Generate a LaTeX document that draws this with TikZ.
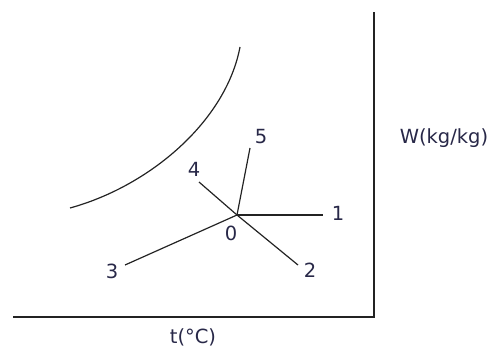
\documentclass[tikz,border=0pt]{standalone}
\usepackage{fontspec}
\setmainfont{DejaVu Sans}
\usetikzlibrary{positioning}
\definecolor{labelink}{RGB}{40,40,72}
\definecolor{lineink}{RGB}{35,35,35}

\begin{document}
\begin{tikzpicture}[
    x=1pt, y=1pt,
    axis/.style={draw=lineink, line width=1.5pt},
    ray/.style={draw=lineink, line width=1.2pt},
    satline/.style={draw=lineink, line width=1.2pt},
    num/.style={text=labelink, font=\fontsize{19.5}{21}\selectfont, inner sep=0pt}
]
    \useasboundingbox (0,0) rectangle (493,349);

    % axes
    \coordinate (corner) at (374,32);
    \coordinate (xend) at (13,32);
    \coordinate (yend) at (374,337);
    \draw[axis] (xend) -- (corner) -- (yend);

    \node[num] (tlabel) at (193,12) {t(°C)};
    \node[num] (wlabel) at (444,211) {W(kg/kg)};

    % saturation curve
    \coordinate (sa) at (70,141);
    \coordinate (sb) at (240,302);
    \draw[satline] (sa) .. controls (150,163) and (226,228) .. (sb);

    % state point and processes
    \coordinate (c0) at (237,134);
    \coordinate (e1) at (323,134);
    \coordinate (e2) at (298,84);
    \coordinate (e3) at (125,84);
    \coordinate (e4) at (199,167);
    \coordinate (e5) at (250,201);

    \draw[ray] (c0) -- (e1);
    \draw[ray] (c0) -- (e2);
    \draw[ray] (c0) -- (e3);
    \draw[ray] (c0) -- (e4);
    \draw[ray] (c0) -- (e5);

    \node[num] (l0) at (231,116) {0};
    \node[num] (l1) at (338,136) {1};
    \node[num] (l2) at (310,79) {2};
    \node[num] (l3) at (112,78) {3};
    \node[num] (l4) at (194,180) {4};
    \node[num] (l5) at (261,212) {5};

\end{tikzpicture}
\end{document}
